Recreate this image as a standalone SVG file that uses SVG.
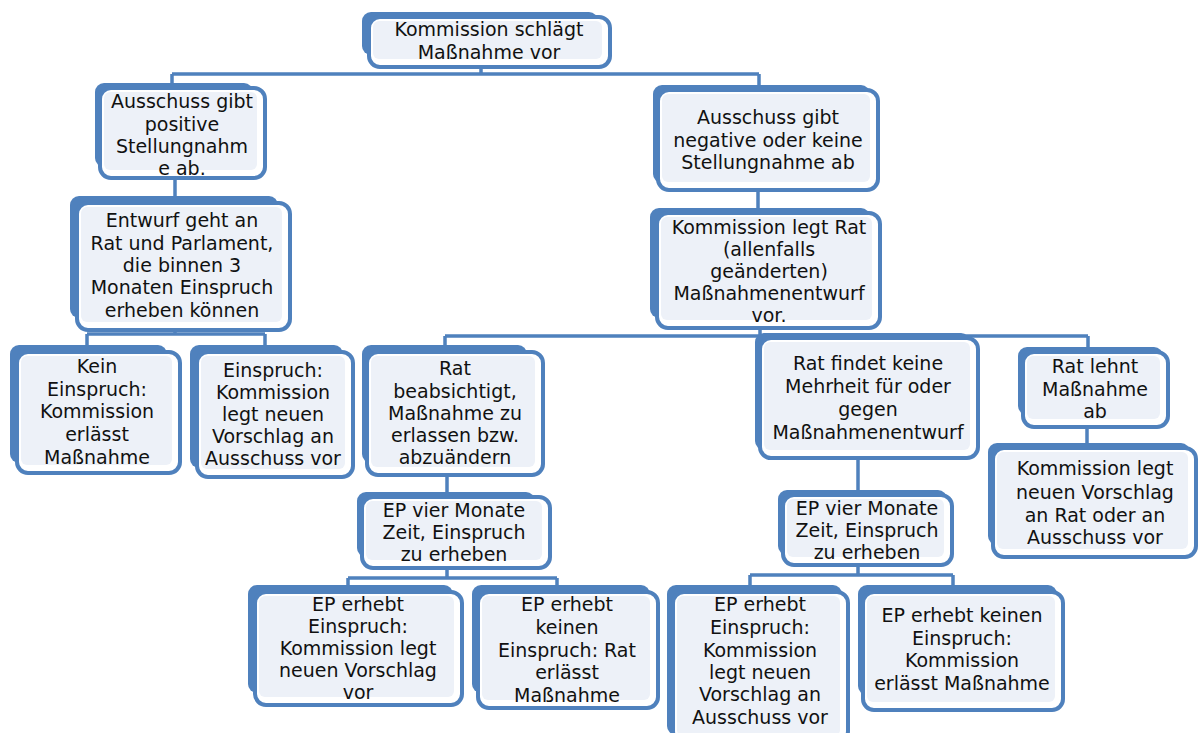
<svg xmlns="http://www.w3.org/2000/svg" width="1198" height="733" viewBox="0 0 1198 733">
<style>
.bk{fill:#4f81bd}
.fr{fill:#fff;stroke:#4f81bd;stroke-width:4}
.in{fill:#edf1f8}
.c{fill:none;stroke:#4f81bd;stroke-width:3.5}
.t{font-family:"DejaVu Sans",sans-serif;font-size:19px;fill:#111;text-anchor:middle;dominant-baseline:central}
</style>
<rect width="1198" height="733" fill="#fff"/>
<g id="connectors" class="c">
<path d="M481,67V74M172,74H759M172,74V88M759,74V90"/>
<path d="M175,178V203"/>
<path d="M175,330V334M87,334H265M87,334V352M265,334V352"/>
<path d="M758,190V213"/>
<path d="M760,328V336M445,336H1088M445,336V352M1088,336V352"/>
<path d="M447,475V497"/>
<path d="M447,568V578M348,578H557M348,578V592M557,578V592"/>
<path d="M858,458V495"/>
<path d="M858,565V575M750,575H953M750,575V592M953,575V592"/>
<path d="M1087,427V448"/>
</g>
<g id="n1"><rect class="bk" x="362" y="12" width="236" height="43" rx="9"/><rect class="fr" x="369" y="17" width="241" height="50" rx="11"/><rect class="in" x="373" y="21" width="229" height="38" rx="6"/>
<text class="t" x="489"><tspan x="489" y="29">Kommission schlägt</tspan><tspan x="489" y="52">Maßnahme vor</tspan></text></g>
<g id="n2"><rect class="bk" x="95" y="83" width="158" height="84" rx="9"/><rect class="fr" x="100" y="88" width="165" height="90" rx="11"/><rect class="in" x="104" y="92" width="153" height="78" rx="6"/>
<text class="t"><tspan x="182" y="101">Ausschuss gibt</tspan><tspan x="182" y="124">positive</tspan><tspan x="182" y="146">Stellungnahm</tspan><tspan x="182" y="168">e ab.</tspan></text></g>
<g id="n3"><rect class="bk" x="70" y="196" width="208" height="122" rx="9"/><rect class="fr" x="77" y="203" width="213" height="127" rx="11"/><rect class="in" x="81" y="207" width="201" height="115" rx="6"/>
<text class="t"><tspan x="182" y="220">Entwurf geht an</tspan><tspan x="182" y="243">Rat und Parlament,</tspan><tspan x="182" y="265">die binnen 3</tspan><tspan x="182" y="287">Monaten Einspruch</tspan><tspan x="182" y="310">erheben können</tspan></text></g>
<g id="n4"><rect class="bk" x="10" y="345" width="157" height="118" rx="9"/><rect class="fr" x="17" y="352" width="163" height="121" rx="11"/><rect class="in" x="21" y="356" width="151" height="109" rx="6"/>
<text class="t"><tspan x="97" y="366">Kein</tspan><tspan x="97" y="389">Einspruch:</tspan><tspan x="97" y="411">Kommission</tspan><tspan x="97" y="434">erlässt</tspan><tspan x="97" y="457">Maßnahme</tspan></text></g>
<g id="n5"><rect class="bk" x="190" y="345" width="153" height="123" rx="9"/><rect class="fr" x="197" y="352" width="156" height="125" rx="11"/><rect class="in" x="201" y="356" width="144" height="113" rx="6"/>
<text class="t"><tspan x="273" y="370">Einspruch:</tspan><tspan x="273" y="392">Kommission</tspan><tspan x="273" y="414">legt neuen</tspan><tspan x="273" y="436">Vorschlag an</tspan><tspan x="273" y="458">Ausschuss vor</tspan></text></g>
<g id="n6"><rect class="bk" x="653" y="85" width="217" height="98" rx="9"/><rect class="fr" x="658" y="90" width="220" height="100" rx="11"/><rect class="in" x="662" y="94" width="208" height="88" rx="6"/>
<text class="t"><tspan x="768" y="117">Ausschuss gibt</tspan><tspan x="768" y="140">negative oder keine</tspan><tspan x="768" y="162">Stellungnahme ab</tspan></text></g>
<g id="n7"><rect class="bk" x="650" y="208" width="220" height="110" rx="9"/><rect class="fr" x="657" y="213" width="223" height="115" rx="11"/><rect class="in" x="661" y="217" width="211" height="103" rx="6"/>
<text class="t"><tspan x="769" y="227">Kommission legt Rat</tspan><tspan x="769" y="249">(allenfalls</tspan><tspan x="769" y="271">geänderten)</tspan><tspan x="769" y="293">Maßnahmenentwurf</tspan><tspan x="769" y="315">vor.</tspan></text></g>
<g id="n8"><rect class="bk" x="362" y="345" width="165" height="118" rx="9"/><rect class="fr" x="367" y="352" width="176" height="123" rx="11"/><rect class="in" x="371" y="356" width="164" height="111" rx="6"/>
<text class="t"><tspan x="455" y="368">Rat</tspan><tspan x="455" y="391">beabsichtigt,</tspan><tspan x="455" y="413">Maßnahme zu</tspan><tspan x="455" y="435">erlassen bzw.</tspan><tspan x="455" y="457">abzuändern</tspan></text></g>
<g id="n9"><rect class="bk" x="357" y="492" width="178" height="65" rx="9"/><rect class="fr" x="362" y="497" width="188" height="71" rx="11"/><rect class="in" x="366" y="501" width="176" height="59" rx="6"/>
<text class="t"><tspan x="454" y="510">EP vier Monate</tspan><tspan x="454" y="532">Zeit, Einspruch</tspan><tspan x="454" y="554">zu erheben</tspan></text></g>
<g id="n10"><rect class="bk" x="248" y="585" width="205" height="108" rx="9"/><rect class="fr" x="255" y="592" width="207" height="113" rx="11"/><rect class="in" x="259" y="596" width="195" height="101" rx="6"/>
<text class="t"><tspan x="358" y="604">EP erhebt</tspan><tspan x="358" y="626">Einspruch:</tspan><tspan x="358" y="648">Kommission legt</tspan><tspan x="358" y="670">neuen Vorschlag</tspan><tspan x="358" y="692">vor</tspan></text></g>
<g id="n11"><rect class="bk" x="472" y="585" width="178" height="108" rx="9"/><rect class="fr" x="478" y="592" width="180" height="116" rx="11"/><rect class="in" x="482" y="596" width="168" height="104" rx="6"/>
<text class="t"><tspan x="567" y="604">EP erhebt</tspan><tspan x="567" y="627">keinen</tspan><tspan x="567" y="650">Einspruch: Rat</tspan><tspan x="567" y="672">erlässt</tspan><tspan x="567" y="695">Maßnahme</tspan></text></g>
<g id="n12"><rect class="bk" x="755" y="333" width="215" height="117" rx="9"/><rect class="fr" x="760" y="338" width="218" height="120" rx="11"/><rect class="in" x="764" y="342" width="206" height="108" rx="6"/>
<text class="t"><tspan x="868" y="363">Rat findet keine</tspan><tspan x="868" y="386">Mehrheit für oder</tspan><tspan x="868" y="409">gegen</tspan><tspan x="868" y="432">Maßnahmenentwurf</tspan></text></g>
<g id="n13"><rect class="bk" x="778" y="490" width="169" height="65" rx="9"/><rect class="fr" x="783" y="495" width="169" height="70" rx="11"/><rect class="in" x="787" y="499" width="157" height="58" rx="6"/>
<text class="t"><tspan x="867" y="508">EP vier Monate</tspan><tspan x="867" y="530">Zeit, Einspruch</tspan><tspan x="867" y="552">zu erheben</tspan></text></g>
<g id="n14"><rect class="bk" x="667" y="585" width="175" height="150" rx="9"/><rect class="fr" x="673" y="592" width="175" height="150" rx="11"/><rect class="in" x="677" y="596" width="163" height="140" rx="6"/>
<text class="t"><tspan x="760" y="604">EP erhebt</tspan><tspan x="760" y="627">Einspruch:</tspan><tspan x="760" y="650">Kommission</tspan><tspan x="760" y="672">legt neuen</tspan><tspan x="760" y="694">Vorschlag an</tspan><tspan x="760" y="717">Ausschuss vor</tspan></text></g>
<g id="n15"><rect class="bk" x="858" y="585" width="199" height="110" rx="9"/><rect class="fr" x="863" y="592" width="200" height="118" rx="11"/><rect class="in" x="867" y="596" width="188" height="106" rx="6"/>
<text class="t"><tspan x="962" y="615">EP erhebt keinen</tspan><tspan x="962" y="638">Einspruch:</tspan><tspan x="962" y="660">Kommission</tspan><tspan x="962" y="683">erlässt Maßnahme</tspan></text></g>
<g id="n16"><rect class="bk" x="1018" y="347" width="145" height="68" rx="9"/><rect class="fr" x="1023" y="352" width="145" height="75" rx="11"/><rect class="in" x="1027" y="356" width="133" height="63" rx="6"/>
<text class="t"><tspan x="1095" y="366">Rat lehnt</tspan><tspan x="1095" y="389">Maßnahme</tspan><tspan x="1095" y="411">ab</tspan></text></g>
<g id="n17"><rect class="bk" x="988" y="443" width="202" height="102" rx="9"/><rect class="fr" x="993" y="448" width="203" height="109" rx="11"/><rect class="in" x="997" y="452" width="191" height="97" rx="6"/>
<text class="t"><tspan x="1095" y="468">Kommission legt</tspan><tspan x="1095" y="492">neuen Vorschlag</tspan><tspan x="1095" y="515">an Rat oder an</tspan><tspan x="1095" y="537">Ausschuss vor</tspan></text></g>
</svg>
